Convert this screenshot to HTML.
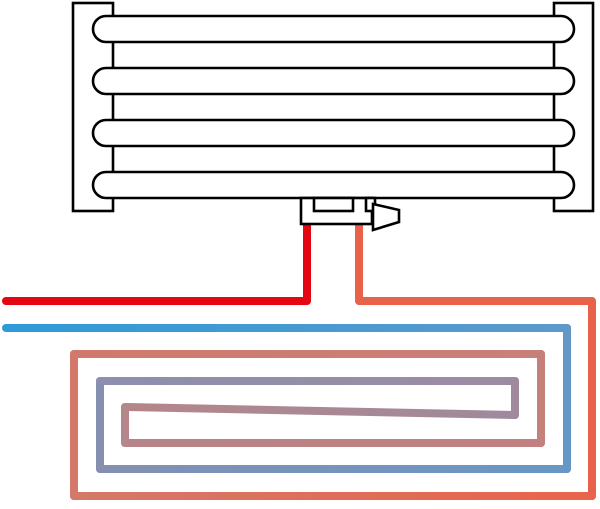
<!DOCTYPE html>
<html><head><style>html,body{margin:0;padding:0;background:#fff}</style></head><body>
<svg width="600" height="504" viewBox="0 0 600 504" xmlns="http://www.w3.org/2000/svg">
<defs>
<linearGradient id="g1" gradientUnits="userSpaceOnUse" x1="74" y1="0" x2="592" y2="0"><stop offset="0" stop-color="#d4786a"/><stop offset="1" stop-color="#e8644a"/></linearGradient>
<linearGradient id="g2" gradientUnits="userSpaceOnUse" x1="74" y1="0" x2="541" y2="0"><stop offset="0" stop-color="#d17a6c"/><stop offset="1" stop-color="#c78079"/></linearGradient>
<linearGradient id="g3" gradientUnits="userSpaceOnUse" x1="125" y1="0" x2="541" y2="0"><stop offset="0" stop-color="#b68488"/><stop offset="1" stop-color="#c28080"/></linearGradient>
<linearGradient id="g4" gradientUnits="userSpaceOnUse" x1="125" y1="0" x2="515" y2="0"><stop offset="0" stop-color="#b5868a"/><stop offset="1" stop-color="#9e8a9c"/></linearGradient>
<linearGradient id="b1" gradientUnits="userSpaceOnUse" x1="5" y1="0" x2="567" y2="0"><stop offset="0" stop-color="#2e9ad8"/><stop offset="1" stop-color="#5d99cb"/></linearGradient>
<linearGradient id="b2" gradientUnits="userSpaceOnUse" x1="100" y1="0" x2="567" y2="0"><stop offset="0" stop-color="#8390b2"/><stop offset="1" stop-color="#6897c5"/></linearGradient>
<linearGradient id="b3" gradientUnits="userSpaceOnUse" x1="100" y1="0" x2="515" y2="0"><stop offset="0" stop-color="#8c8fad"/><stop offset="1" stop-color="#9c8ca2"/></linearGradient>
</defs>
<g fill="none" stroke-width="8" stroke-linecap="round" stroke-linejoin="round">
<polyline points="307,224 307,301 6,301" stroke="#e30613"/>
<polyline points="359,224 359,301 592,301 592,496" stroke="#e8624a"/>
<polyline points="592,496 74,496" stroke="url(#g1)"/>
<polyline points="74,496 74,354" stroke="#d4786a"/>
<polyline points="74,354 541,354" stroke="url(#g2)"/>
<polyline points="541,354 541,443" stroke="#c48079"/>
<polyline points="541,443 125,443" stroke="url(#g3)"/>
<polyline points="125,443 125,407" stroke="#b5868a"/>
<polyline points="125,407 515,415" stroke="url(#g4)"/>
<polyline points="6,328 567,328" stroke="url(#b1)"/>
<polyline points="567,328 567,469" stroke="#6297c6"/>
<polyline points="567,469 100,469" stroke="url(#b2)"/>
<polyline points="100,469 100,381" stroke="#868fb0"/>
<polyline points="100,381 515,381" stroke="url(#b3)"/>
<polyline points="515,381 515,415" stroke="#9e8a9c"/>
</g>
<g fill="#fff" stroke="#000" stroke-width="2.6">
<rect x="73" y="3" width="40" height="208"/>
<rect x="554" y="3" width="39" height="208"/>
<rect x="93" y="16" width="481" height="26" rx="13"/>
<rect x="93" y="68" width="481" height="26" rx="13"/>
<rect x="93" y="120" width="481" height="26" rx="13"/>
<rect x="93" y="172" width="481" height="26" rx="13"/>
<rect x="301" y="198" width="71" height="26"/>
<rect x="314" y="198" width="39" height="13"/>
<rect x="366" y="198" width="9" height="13"/>
<polygon points="373,204 399,210 399,222 373,230"/>
</g>
</svg>
</body></html>
